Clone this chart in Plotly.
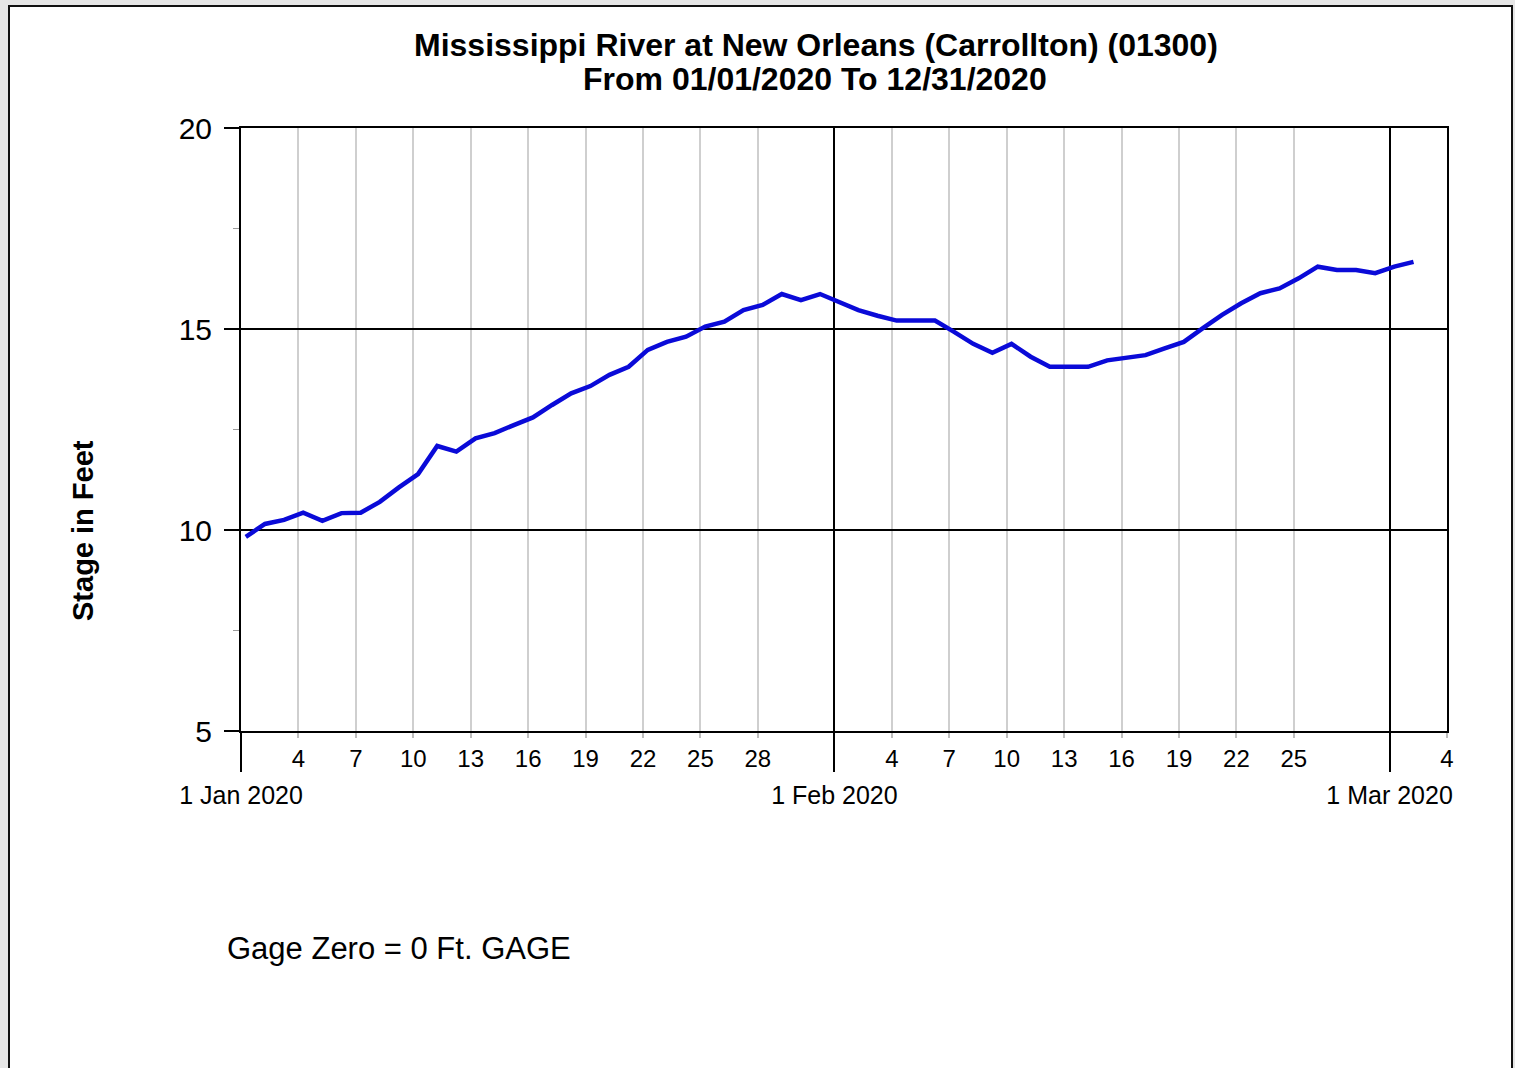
"""Mississippi River stage hydrograph at New Orleans (Carrollton), early 2020."""

import pandas as pd
import plotly.graph_objects as go

_LINE = "#0a0ad8"
_MINOR_GRID = "#cfcfcf"
_FONT = "Arial, Liberation Sans, sans-serif"

# daily readings, 1 Jan 2020 .. 2 Mar 2020
dates = pd.date_range("2020-01-01 06:00", periods=62, freq="D")
stage_jan = [
    9.83, 10.15, 10.25, 10.43, 10.23, 10.42, 10.43, 10.70, 11.06, 11.39,
    12.09, 11.95, 12.28, 12.41, 12.61, 12.80, 13.11, 13.40, 13.58, 13.86,
    14.06, 14.48, 14.68, 14.81, 15.06, 15.18, 15.47, 15.60, 15.87, 15.72,
    15.87,
]
stage_feb = [
    15.66, 15.47, 15.33, 15.21, 15.21, 15.21, 14.93, 14.63, 14.41, 14.63,
    14.31, 14.06, 14.06, 14.06, 14.22, 14.29, 14.35, 14.52, 14.68, 15.02,
    15.35, 15.64, 15.89, 16.01, 16.26, 16.55, 16.47, 16.47, 16.39,
]
stage_mar = [16.55, 16.67]
stage = stage_jan + stage_feb + stage_mar

# axis labelling
day_ticks = [
    "2020-01-04", "2020-01-07", "2020-01-10", "2020-01-13", "2020-01-16",
    "2020-01-19", "2020-01-22", "2020-01-25", "2020-01-28",
    "2020-02-04", "2020-02-07", "2020-02-10", "2020-02-13", "2020-02-16",
    "2020-02-19", "2020-02-22", "2020-02-25", "2020-03-04",
]
day_labels = [
    "4", "7", "10", "13", "16", "19", "22", "25", "28",
    "4", "7", "10", "13", "16", "19", "22", "25", "4",
]
month_ticks = ["2020-01-01", "2020-02-01", "2020-03-01"]
month_labels = ["1 Jan 2020", "1 Feb 2020", "1 Mar 2020"]
stage_ticks = [5, 10, 15, 20]
x_range = ["2020-01-01", "2020-03-04"]

fig = go.Figure()
fig.add_trace(
    go.Scatter(
        x=dates, y=stage, mode="lines",
        line={"color": _LINE, "width": 4.5}, hoverinfo="x+y", showlegend=False,
    )
)
# invisible copy so the month axis gets its own overlay
fig.add_trace(
    go.Scatter(
        x=dates, y=stage, xaxis="x2", mode="lines",
        line={"color": "rgba(0,0,0,0)", "width": 0}, hoverinfo="skip", showlegend=False,
    )
)

# plot area is 241..1447 x 128..731 in page pixels
L, R, T, B = 241, 1447, 128, 731
W, H = R - L, B - T


def px(x):
    return (x - L) / W


def py(y):
    return (B - y) / H


fig.update_layout(
    width=1515,
    height=1068,
    autosize=False,
    paper_bgcolor="#e6e6e6",
    plot_bgcolor="white",
    font={"family": _FONT, "color": "black"},
    margin={"l": L, "r": 1515 - R, "t": T, "b": 1068 - B, "pad": 0},
    showlegend=False,
    xaxis={
        "type": "date",
        "range": x_range,
        "tickvals": day_ticks,
        "ticktext": day_labels,
        "ticks": "outside",
        "ticklen": 5,
        "tickwidth": 2,
        "tickcolor": "#bdbdbd",
        "ticklabelstandoff": 0,
        "tickfont": {"size": 24, "color": "black"},
        "showgrid": True,
        "gridcolor": _MINOR_GRID,
        "gridwidth": 2,
        "showline": True,
        "linecolor": "black",
        "linewidth": 2,
        "mirror": True,
        "zeroline": False,
    },
    xaxis2={
        "type": "date",
        "overlaying": "x",
        "anchor": "y",
        "side": "bottom",
        "range": x_range,
        "tickvals": month_ticks,
        "ticktext": month_labels,
        "ticks": "outside",
        "ticklen": 40,
        "tickwidth": 2,
        "tickcolor": "black",
        "ticklabelstandoff": 2,
        "tickfont": {"size": 25, "color": "black"},
        "showgrid": True,
        "gridcolor": "black",
        "gridwidth": 2,
        "showline": False,
        "zeroline": False,
    },
    yaxis={
        "range": [5, 20],
        "tickvals": stage_ticks,
        "ticks": "outside",
        "ticklen": 15,
        "tickwidth": 2,
        "tickcolor": "black",
        "ticklabelstandoff": 6,
        "tickfont": {"size": 30, "color": "black"},
        "minor": {
            "ticks": "outside", "ticklen": 6, "tickwidth": 1,
            "tickcolor": "#9a9a9a", "dtick": 2.5, "tick0": 5, "showgrid": False,
        },
        "showgrid": True,
        "gridcolor": "black",
        "gridwidth": 2,
        "showline": True,
        "linecolor": "black",
        "linewidth": 2,
        "mirror": True,
        "zeroline": False,
    },
    shapes=[
        {
            "type": "rect", "xref": "paper", "yref": "paper", "layer": "below",
            "x0": px(9), "x1": px(1512), "y0": py(1080), "y1": py(6),
            "fillcolor": "white", "line": {"color": "#111111", "width": 2},
        }
    ],
    annotations=[
        {
            "text": "<b>Mississippi River at New Orleans (Carrollton) (01300)</b>",
            "xref": "paper", "yref": "paper", "x": px(816), "y": py(45),
            "xanchor": "center", "yanchor": "middle", "showarrow": False,
            "font": {"size": 32, "color": "black"},
        },
        {
            "text": "<b>From 01/01/2020 To 12/31/2020</b>",
            "xref": "paper", "yref": "paper", "x": px(815), "y": py(79),
            "xanchor": "center", "yanchor": "middle", "showarrow": False,
            "font": {"size": 32, "color": "black"},
        },
        {
            "text": "<b>Stage in Feet</b>",
            "xref": "paper", "yref": "paper", "x": px(83), "y": py(531),
            "xanchor": "center", "yanchor": "middle", "textangle": -90,
            "showarrow": False, "font": {"size": 29, "color": "black"},
        },
        {
            "text": "Gage Zero = 0 Ft. GAGE",
            "xref": "paper", "yref": "paper", "x": px(225), "y": py(948),
            "xanchor": "left", "yanchor": "middle", "showarrow": False,
            "font": {"size": 31, "color": "black"},
        },
    ],
)

fig.write_html(
    "out.html",
    config={"displayModeBar": False},
    post_script="document.body.style.margin='0';document.body.style.overflow='hidden';",
)
